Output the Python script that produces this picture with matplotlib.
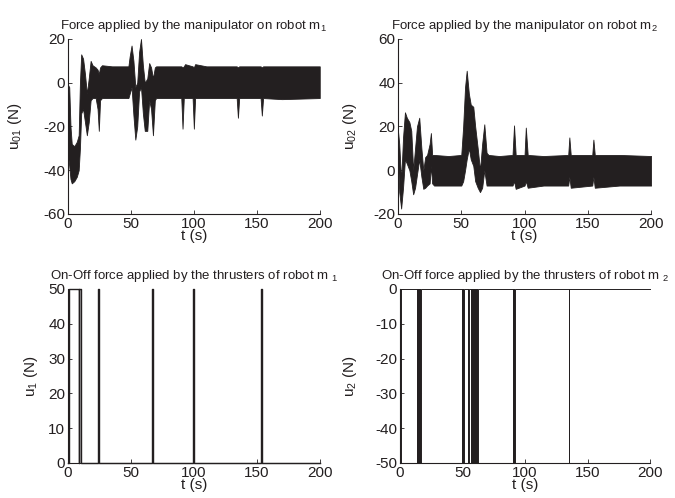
import matplotlib
matplotlib.use("Agg")
import matplotlib.pyplot as plt

plt.rcParams["font.family"] = ["Liberation Sans", "DejaVu Sans"]
plt.rcParams["mathtext.fontset"] = "custom"
plt.rcParams["mathtext.rm"] = "Liberation Sans"
plt.rcParams["mathtext.it"] = "Liberation Sans"
plt.rcParams["mathtext.default"] = "regular"
plt.rcParams["axes.unicode_minus"] = False

INK = "#231f20"

# envelope of the chattering manipulator force on m1
T01 = [0, 1, 2, 3, 5, 7, 8.5, 9.5, 10.5, 12, 13.5, 15, 16.5, 18, 19.5, 22, 23.5, 24.5, 25.5, 27,
       35, 48, 49, 50.5, 52, 53.5, 55, 56.5, 58, 59.5, 61, 63, 64.5, 66, 67.5, 69, 70, 90, 91, 92,
       93, 99, 100, 101, 110, 134, 135, 136, 153, 154, 155, 170, 200]
U01_UP = [-1, -2, -20, -28, -29, -27, -24, 0, 13, 11, 4, -5, 2, 10, 8, 7, 6, 4, 7, 8,
          7.5, 7.5, 12, 17, 10, -2, 0, 14, 20, 8, 0, 2, 9, 7, 2, 7, 7.5, 7.5, 7, 7.5,
          8.5, 7.5, 7, 8.5, 7.5, 7.5, 7, 7.5, 7.5, 7, 7.5, 7.5, 7.5]
U01_LO = [-33, -38, -44, -46, -45, -43, -40, -30, -14, -12, -18, -24, -18, -8, -7, -7, -12, -22, -8, -7,
          -7, -7, -5, -2, -15, -26, -20, -4, -2, -14, -22, -22, -8, -12, -24, -8, -7, -7, -21, -7,
          -7, -7, -21, -7, -7, -7, -16, -7, -7, -15, -7, -7.5, -7]

# envelope of the chattering manipulator force on m2
T02 = [0, 1, 2.5, 4, 5.5, 7, 9, 10.5, 12, 13.5, 15, 16.8, 18.5, 20, 21.5, 23, 25, 26, 27, 28.5,
       40, 50, 51.5, 53, 54.3, 56, 57.5, 59.5, 61, 63, 64.8, 66.5, 68.2, 70, 71.5, 80, 90.5, 91.7, 93, 100,
       101, 102.5, 115, 134.5, 135.4, 136.5, 153.5, 154.4, 155.5, 175, 200]
U02_UP = [18, 12, -5, 15, 26.5, 24, 22, 18, 0, 10, 20, 24, 10, 0, 6, 7, 12, 17, 7, 7,
          6.5, 7, 20, 38, 45.5, 35, 30, 29, 20, 10, 0, 12, 21, 8, 7, 6.5, 7, 20.5, 7, 7,
          19.5, 7, 6.5, 7, 15, 7, 7, 14, 7, 7, 6.5]
U02_LO = [5, -10, -17.5, -8, 5, 3, 0, -5, -11, -8, -2, 5, -3, -8.5, -8, -7, -6, 2, -6, -7,
          -7, -7, -5, 0, 5, 10, 5, 2, -5, -8, -10, -8, 0, -7, -7, -7, -7, -5, -8.5, -7,
          -5, -8, -7, -7, -3, -8, -7, -3, -8, -7, -7]

# thruster on/off intervals (s)
U1_LEVEL = 50
U1_ON = [1.0, 9.0, 23.8, 66.7, 99.4, 153.3]
U1_OFF = [8.8, 10.0, 25.0, 67.9, 100.4, 154.0]
U2_LEVEL = -50
U2_ON = [0.0, 13.2, 49.6, 54.5, 57.1, 90.0, 134.9]
U2_OFF = [0.5, 16.5, 51.4, 55.4, 62.0, 91.8, 135.4]

TITLES = [
    "Force applied by the manipulator on robot m$_1$",
    "Force applied by the manipulator on robot m$_2$",
    "On-Off force applied by the thrusters of robot m $_1$",
    "On-Off force applied by the thrusters of robot m $_2$",
]
YLABELS = ["u$_{01}$ (N)", "u$_{02}$ (N)", "u$_1$ (N)", "u$_2$ (N)"]
YLABEL_X = [-0.175, -0.154, -0.111, -0.164]
YTICKS = [[-60, -40, -20, 0, 20], [-20, 0, 20, 40, 60], [0, 10, 20, 30, 40, 50], [-50, -40, -30, -20, -10, 0]]
XTICKS = [0, 50, 100, 150, 200]


def step_signal(on, off, level, t_end=200):
    t, u = [0], [0]
    for a, b in zip(on, off):
        t += [a, a, b, b]
        u += [0, level, level, 0]
    t.append(t_end)
    u.append(0)
    return t, u


def style_axes(ax, idx):
    ax.set_xlim(0, 200)
    ax.set_ylim(YTICKS[idx][0], YTICKS[idx][-1])
    ax.set_xticks(XTICKS)
    ax.set_yticks(YTICKS[idx])
    ax.spines["top"].set_visible(False)
    ax.spines["right"].set_visible(False)
    for s in ("left", "bottom"):
        ax.spines[s].set_linewidth(0.8)
        ax.spines[s].set_color(INK)
    ax.tick_params(direction="in", length=3, width=0.6, labelsize=11, pad=2, colors=INK)
    ax.set_title(TITLES[idx], fontsize=9.5, pad=7, color=INK)
    ax.set_ylabel(YLABELS[idx], fontsize=11, color=INK)
    ax.yaxis.set_label_coords(YLABEL_X[idx], 0.5)
    ax.set_xlabel("t (s)", fontsize=11, labelpad=-1, color=INK)


fig = plt.figure(figsize=(6.75, 4.98), dpi=100)
positions = [
    [0.1007, 0.5703, 0.3730, 0.3514],
    [0.5896, 0.5703, 0.3750, 0.3514],
    [0.1007, 0.0703, 0.3730, 0.3494],
    [0.5926, 0.0703, 0.3704, 0.3494],
]
axes = [fig.add_axes(p) for p in positions]

ax = axes[0]
ax.fill_between(T01, U01_LO, U01_UP, color=INK, lw=0.6, edgecolor=INK)
style_axes(ax, 0)

ax = axes[1]
ax.fill_between(T02, U02_LO, U02_UP, color=INK, lw=0.6, edgecolor=INK)
style_axes(ax, 1)

ax = axes[2]
t1, u1 = step_signal(U1_ON, U1_OFF, U1_LEVEL)
ax.plot(t1, u1, color=INK, lw=1.0, clip_on=False)
style_axes(ax, 2)

ax = axes[3]
t2, u2 = step_signal(U2_ON, U2_OFF, U2_LEVEL)
ax.fill_between(t2, u2, 0, color=INK, lw=0)
ax.plot(t2, u2, color=INK, lw=0.7, clip_on=False)
style_axes(ax, 3)

fig.savefig("out.png", dpi=100)
